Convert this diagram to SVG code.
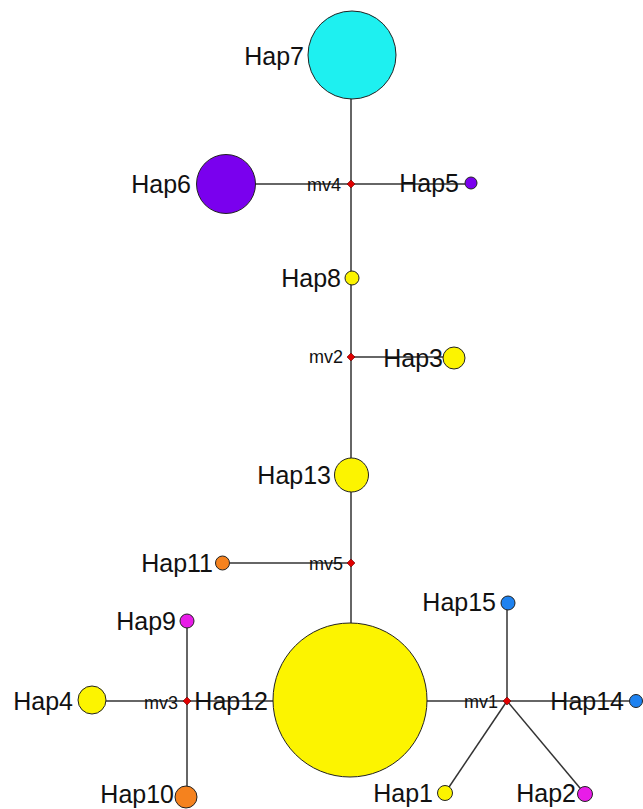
<svg xmlns="http://www.w3.org/2000/svg" width="643" height="809" viewBox="0 0 643 809">
<style>
.lbl{font-family:"Liberation Sans",Arial,sans-serif;font-size:25px;fill:#111;text-anchor:end}
.mv{font-family:"Liberation Sans",Arial,sans-serif;font-size:18px;fill:#111;text-anchor:end}
.hap{stroke:#222;stroke-width:1}
.edge{stroke:#333;stroke-width:1.5;fill:none}
.mvn{fill:#e00000;stroke:#600;stroke-width:0.6}
.y{fill:#fcf400}
</style>
<rect width="643" height="809" fill="#fff"/>
<g id="connectors">
<line class="edge" x1="351" y1="98" x2="351" y2="623"/>
<line class="edge" x1="255" y1="184" x2="465" y2="184"/>
<line class="edge" x1="351" y1="357" x2="443" y2="357"/>
<line class="edge" x1="230" y1="563" x2="351" y2="563"/>
<line class="edge" x1="187" y1="621" x2="187" y2="797"/>
<line class="edge" x1="106" y1="701" x2="273" y2="701"/>
<line class="edge" x1="427" y1="701" x2="630" y2="701"/>
<line class="edge" x1="507" y1="603" x2="507" y2="701"/>
<line class="edge" x1="507" y1="701" x2="445" y2="793"/>
<line class="edge" x1="507" y1="701" x2="585" y2="794"/>
</g>
<g id="Hap7"><circle class="hap" cx="352" cy="55" r="44" fill="#1ef0f0"/><text class="lbl" x="304" y="65">Hap7</text></g>
<g id="Hap6"><circle class="hap" cx="226" cy="184" r="29.5" fill="#7a00ee"/><text class="lbl" x="191" y="193">Hap6</text></g>
<g id="mv4"><polygon class="mvn" points="351,180 355,184 351,188 347,184"/><text class="mv" x="341" y="191">mv4</text></g>
<g id="Hap5"><circle class="hap" cx="471" cy="183" r="6" fill="#7a00ee"/><text class="lbl" x="459" y="192">Hap5</text></g>
<g id="Hap8"><circle class="hap y" cx="352" cy="278" r="7"/><text class="lbl" x="341" y="287">Hap8</text></g>
<g id="mv2"><polygon class="mvn" points="351,353 355,357 351,361 347,357"/><text class="mv" x="343" y="363">mv2</text></g>
<g id="Hap3"><circle class="hap y" cx="454" cy="358" r="11"/><text class="lbl" x="443" y="367">Hap3</text></g>
<g id="Hap13"><circle class="hap y" cx="351.5" cy="475" r="17"/><text class="lbl" x="331" y="484">Hap13</text></g>
<g id="Hap11"><circle class="hap" cx="222.5" cy="563" r="7" fill="#f5821e"/><text class="lbl" x="213" y="572">Hap11</text></g>
<g id="mv5"><polygon class="mvn" points="351,559 355,563 351,567 347,563"/><text class="mv" x="343" y="570">mv5</text></g>
<g id="Hap9"><circle class="hap" cx="187" cy="621" r="7" fill="#e81ce8"/><text class="lbl" x="176" y="630">Hap9</text></g>
<g id="Hap4"><circle class="hap y" cx="92" cy="700" r="14"/><text class="lbl" x="73" y="710">Hap4</text></g>
<g id="mv3"><polygon class="mvn" points="187,697 191,701 187,705 183,701"/><text class="mv" x="178" y="709">mv3</text></g>
<g id="Hap12"><circle class="hap y" cx="350" cy="700" r="77"/><text class="lbl" x="268" y="710">Hap12</text></g>
<g id="Hap10"><circle class="hap" cx="186" cy="797" r="11" fill="#f5821e"/><text class="lbl" x="174" y="803">Hap10</text></g>
<g id="mv1"><polygon class="mvn" points="507,697 511,701 507,705 503,701"/><text class="mv" x="498" y="708">mv1</text></g>
<g id="Hap14"><circle class="hap" cx="636" cy="701" r="6.5" fill="#1e82f0"/><text class="lbl" x="624" y="710">Hap14</text></g>
<g id="Hap15"><circle class="hap" cx="508" cy="603" r="7" fill="#1e82f0"/><text class="lbl" x="496" y="611">Hap15</text></g>
<g id="Hap1"><circle class="hap y" cx="445" cy="793" r="7.5"/><text class="lbl" x="433" y="802">Hap1</text></g>
<g id="Hap2"><circle class="hap" cx="585" cy="794" r="7.5" fill="#e81ce8"/><text class="lbl" x="576" y="802">Hap2</text></g>
</svg>
